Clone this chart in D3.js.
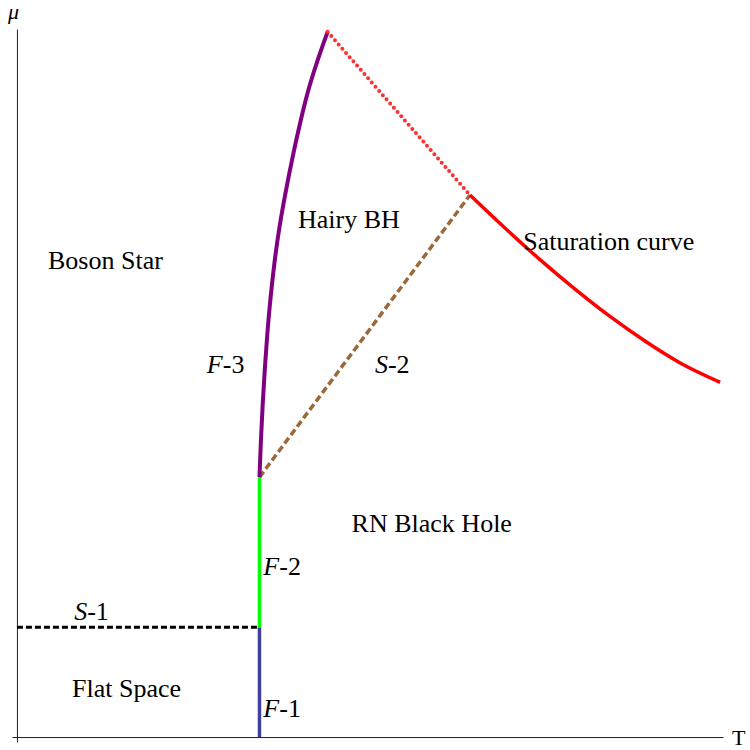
<!DOCTYPE html>
<html>
<head>
<meta charset="utf-8">
<script src="https://cdn.jsdelivr.net/npm/d3@7"></script>
<style>
  body { margin: 0; background: #fff; }
</style>
</head>
<body>
<div id="chart"></div>
<script>
// phase boundaries, [T, mu] pairs
const s1Line = [[0, 0.155], [0.3435, 0.155]]
const f1Line = [[0.3435, 0], [0.3435, 0.155]]
const f2Line = [[0.3435, 0.155], [0.3435, 0.367]]
const f3Line = [[0.3435, 0.367], [0.3455, 0.42], [0.348, 0.47], [0.351, 0.52],
  [0.3545, 0.57], [0.359, 0.62], [0.3645, 0.67], [0.3715, 0.72], [0.3805, 0.77],
  [0.3905, 0.82], [0.4015, 0.87], [0.414, 0.92], [0.427, 0.96], [0.440, 0.996]]
const s2Line = [[0.3435, 0.367], [0.6416, 0.7655]]
const dottedLine = [[0.440, 0.996], [0.6416, 0.7655]]
const saturation = [[0.6416, 0.7655], [0.69, 0.720], [0.74, 0.675], [0.79, 0.633],
  [0.84, 0.594], [0.89, 0.559], [0.94, 0.528], [0.996, 0.501]]

// region labels: [text, T, mu]
const regionLabels = [
  ['Boson Star', 0.044, 0.661],
  ['Hairy BH', 0.398, 0.719],
  ['RN Black Hole', 0.474, 0.289],
  ['Saturation curve', 0.717, 0.688],
  ['Flat Space', 0.078, 0.057]
]
// boundary labels: [italic letter, suffix, T, mu]
const curveLabels = [
  ['F', '-3', 0.269, 0.514],
  ['S', '-2', 0.507, 0.514],
  ['F', '-2', 0.349, 0.229],
  ['S', '-1', 0.081, 0.165],
  ['F', '-1', 0.349, 0.028]
]

const width = 750, height = 750
const serif = '"Liberation Serif", "Times New Roman", "DejaVu Serif", serif'

const x = d3.scaleLinear().domain([-0.007, 1]).range([12, 723])
const y = d3.scaleLinear().domain([-0.007, 1]).range([742, 29])

const svg = d3.select('#chart')
  .append('svg')
  .attr('width', width)
  .attr('height', height)
  .attr('font-family', serif)

// axes without ticks
svg.append('g')
  .attr('transform', `translate(0, ${y(0)})`)
  .call(d3.axisBottom(x).ticks(0).tickSizeOuter(0))
  .select('.domain').attr('stroke', '#222')

svg.append('g')
  .attr('transform', `translate(${x(0)}, 0)`)
  .call(d3.axisLeft(y).ticks(0).tickSizeOuter(0))
  .select('.domain').attr('stroke', '#222')

svg.append('text').attr('x', 8).attr('y', 19)
  .attr('font-family', serif)
  .style('font-size', '22px').style('font-style', 'italic').text('μ')
svg.append('text').attr('x', 732).attr('y', 745)
  .attr('font-family', serif)
  .style('font-size', '22px').text('T')

const line = d3.line().x(d => x(d[0])).y(d => y(d[1]))
const smooth = d3.line().x(d => x(d[0])).y(d => y(d[1])).curve(d3.curveMonotoneX)
const smoothB = d3.line().x(d => x(d[0])).y(d => y(d[1])).curve(d3.curveBasis)

let draw = (data, gen, color, w, dash, cap) => {
  svg.append('path')
    .datum(data)
    .attr('d', gen)
    .attr('fill', 'none')
    .attr('stroke', color)
    .attr('stroke-width', w)
    .attr('stroke-dasharray', dash)
    .attr('stroke-linecap', cap || 'butt')
}

draw(s1Line, line, '#000', 3, '6,3')
draw(f1Line, line, '#4040a0', 3.5)
draw(f2Line, line, '#00ff00', 3.5)
draw(s2Line, line, '#9c6a3a', 3.5, '7,3.5')
draw(f3Line, smoothB, '#800080', 4)
draw(dottedLine, line, '#ff3030', 4, '0,5.6', 'round')
draw(saturation, smooth, '#ff0000', 3.5)

svg.selectAll('text.region')
  .data(regionLabels)
  .enter()
  .append('text')
  .attr('class', 'region')
  .attr('x', d => x(d[1]))
  .attr('y', d => y(d[2]))
  .attr('font-family', serif)
  .style('font-size', '26px')
  .text(d => d[0])

let cl = svg.selectAll('text.curve')
  .data(curveLabels)
  .enter()
  .append('text')
  .attr('class', 'curve')
  .attr('x', d => x(d[2]))
  .attr('y', d => y(d[3]))
  .attr('font-family', serif)
  .style('font-size', '26px')
cl.append('tspan').style('font-style', 'italic').text(d => d[0])
cl.append('tspan').text(d => d[1])
</script>
</body>
</html>
